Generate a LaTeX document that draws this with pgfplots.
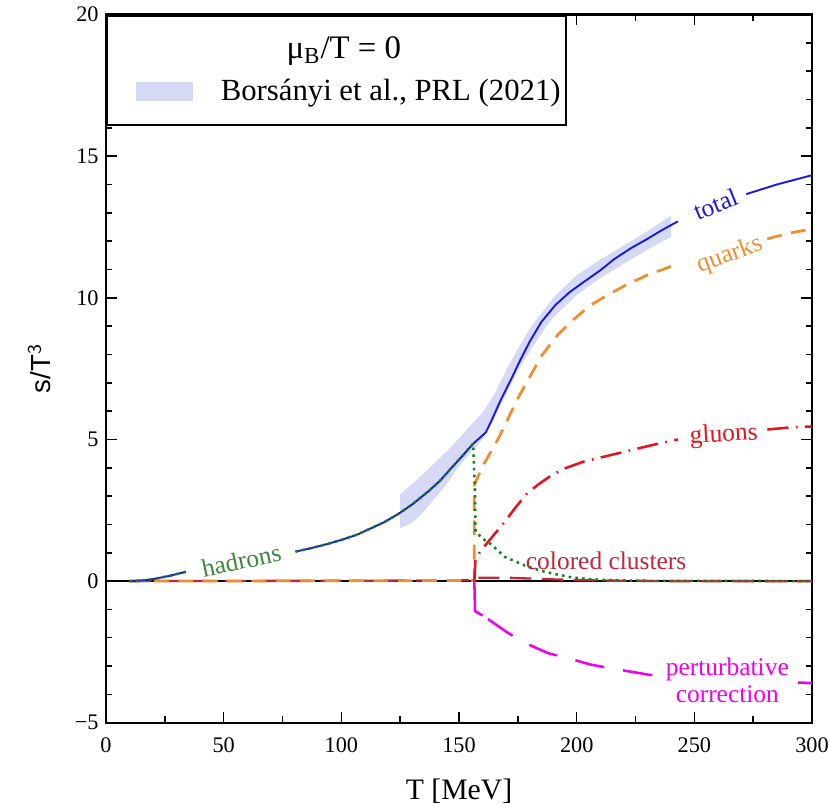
\documentclass[border=0pt]{standalone}
\usepackage{pgfplots}
\pgfplotsset{compat=1.18}
\usepackage{fontspec}
\setmainfont{Liberation Serif}
\newfontfamily\lsans{Liberation Sans}
\definecolor{bandcol}{RGB}{214,217,245}
\definecolor{cblue}{RGB}{25,25,225}
\definecolor{corange}{RGB}{238,142,50}
\definecolor{cred}{RGB}{228,20,30}
\definecolor{cgreen}{RGB}{20,130,20}
\definecolor{ctext}{RGB}{60,135,60}
\definecolor{ccrim}{RGB}{190,40,60}
\definecolor{cmag}{RGB}{240,0,240}
\begin{document}
\begin{tikzpicture}
\begin{axis}[
  width=333pt, height=334pt, scale only axis,
  xmin=0, xmax=300, ymin=-5, ymax=20,
  xtick={0,50,...,300}, xticklabels={0,50,100,150,200,250,300},
  ytick={-5,0,...,20}, yticklabels={−5,0,5,10,15,20},
  minor x tick num=1, minor y tick num=4,
  tick pos=both, tick align=inside,
  major tick length=5pt, minor tick length=3pt,
  axis line style={line width=1.1pt},
  tick style={black, line width=0.7pt},
  ticklabel style={font=\fontsize{10.5}{12}\selectfont},
  xticklabel style={inner xsep=0pt, yshift=-3.5pt},
  xlabel={T [MeV]}, xlabel style={font=\fontsize{14}{16}\selectfont, yshift=-5.5pt},
  ylabel={\lsans s/T$^{\mathsf{3}}$}, ylabel style={font=\fontsize{13}{15}\selectfont, yshift=4.7pt},
  legend style={at={(0,1)}, anchor=north west, draw=black, line width=1.1pt,
    font=\fontsize{14.5}{16}\selectfont, inner xsep=0.5pt, inner ysep=8pt, row sep=4pt,
    legend cell align=left},
]
% legend entries
\addlegendimage{empty legend}
\addlegendentry{\hspace{42pt}\fontsize{15.5}{17}\selectfont μ\textsubscript{B}/T = 0}
\addlegendimage{legend image code/.code={\path (0pt,0pt); \fill[bandcol] (13pt,-4pt) rectangle (39pt,4pt);}}
\addlegendentry{\hspace{11pt}Borsányi et al., PRL (2021)}

% band
\addplot[forget plot, fill=bandcol, draw=none] coordinates {
(125,1.87)(130,2.05)(135,2.45)(140,2.95)(145,3.45)(150,4.05)(155,4.55)(160,5.0)(165,5.75)(170,6.6)(175,7.45)(180,8.1)(185,8.75)(190,9.3)(200,10.1)(210,10.7)(220,11.2)(230,11.7)(240,12.15)
(240,12.9)(230,12.35)(220,11.85)(210,11.35)(200,10.8)(190,10.0)(185,9.45)(180,8.9)(175,8.2)(170,7.45)(165,6.6)(160,5.95)(155,5.5)(150,5.04)(145,4.6)(140,4.2)(135,3.8)(130,3.42)(125,3.06)
} -- cycle;

% zero line
\addplot[forget plot, black, line width=0.7pt] coordinates {(0,0)(300,0)};

% colored clusters
\addplot[forget plot, ccrim, line width=1.1pt, dash pattern=on 10pt off 5pt] coordinates {
(10,0)(100,0.01)(156,0.03)(157,0.12)(170,0.12)(180,0.09)(190,0.06)(210,0.02)(240,0.0)(300,0)};

% quarks
\addplot[forget plot, corange, line width=1.3pt, dash pattern=on 7pt off 4.5pt] coordinates {
(10,0)(156.5,0.02)(156.5,3.4)(160,4.05)(166.5,5.0)(175,6.45)(185,7.95)(192,8.7)(199,9.26)(206,9.75)(214,10.14)(222,10.5)(230,10.8)(243,11.2)};
\addplot[forget plot, corange, line width=1.3pt, dash pattern=on 7pt off 4.5pt] coordinates {
(281,12.08)(290,12.28)(300,12.43)};

% gluons
\addplot[forget plot, cred, line width=1.2pt, dash pattern=on 10pt off 3.5pt on 0.8pt off 3.5pt] coordinates {
(156.5,0)(157,0.8)(160,1.15)(164.5,1.6)(169.5,2.1)(174,2.6)(179,3.1)(183.5,3.4)(189,3.72)(195,3.98)(203,4.22)(212,4.4)(222,4.6)(233,4.82)(243,5.0)};
\addplot[forget plot, cred, line width=1.2pt, dash pattern=on 10pt off 3.5pt on 0.8pt off 3.5pt] coordinates {
(281,5.35)(290,5.42)(300,5.46)};

% perturbative correction
\addplot[forget plot, cmag, line width=1.2pt] coordinates {(156.5,0)(156.8,-1.06)(160,-1.22)};
\addplot[forget plot, cmag, line width=1.2pt, dash pattern=on 14pt off 9pt] coordinates {
(162.3,-1.34)(170.8,-1.83)(179,-2.22)(187.7,-2.54)(197.5,-2.75)(206,-2.95)(216,-3.1)(226,-3.24)(234,-3.35)};
\addplot[forget plot, cmag, line width=1.2pt] coordinates {(294,-3.58)(300,-3.6)};

% total
\addplot[forget plot, cblue, line width=0.9pt] coordinates {
(10,0)(15,0.02)(20,0.07)(26.7,0.18)(34,0.33)};
\addplot[forget plot, cblue, line width=0.9pt] coordinates {
(80.5,1.04)(87,1.16)(94.5,1.32)(101,1.48)(107,1.65)(111.4,1.82)(118,2.07)(124,2.36)(130,2.7)(137,3.17)(142,3.55)(146.6,3.98)(151,4.38)(156,4.85)(161.4,5.25)(164,5.7)(167.4,6.34)(172,7.1)(176,7.8)(180,8.45)(185,9.15)(191,9.75)(197,10.2)(203,10.56)(210,10.97)(216,11.37)(223,11.75)(230,12.08)(236,12.38)(243,12.7)};
\addplot[forget plot, cblue, line width=0.9pt] coordinates {
(272,13.66)(285,14.0)(300,14.33)};

% hadrons
\addplot[forget plot, cgreen, line width=1.2pt, dotted] coordinates {
(10,0)(15,0.02)(20,0.07)(26.7,0.18)(34,0.33)};
\addplot[forget plot, cgreen, line width=1.2pt, dotted] coordinates {
(80.5,1.04)(87,1.16)(94.5,1.32)(101,1.48)(107,1.65)(111.4,1.82)(118,2.07)(124,2.36)(130,2.7)(137,3.17)(142,3.55)(146.6,3.98)(151,4.38)(156,4.85)(156.8,3.0)(157,1.75)(160,1.5)(163.6,1.3)(169.5,0.85)(178,0.55)(185,0.36)(190.7,0.25)(198,0.13)(205,0.07)(215,0.03)(230,0.01)(300,0)};

% labels
\node[cblue, rotate=22, font=\fontsize{12}{14}\selectfont] at (axis cs:259,13.3) {total};
\node[corange, rotate=20, font=\fontsize{12}{14}\selectfont] at (axis cs:265,11.5) {quarks};
\node[cred, rotate=3, font=\fontsize{12}{14}\selectfont] at (axis cs:262.5,5.15) {gluons};
\node[ccrim, font=\fontsize{12}{14}\selectfont] at (axis cs:212.5,0.72) {colored clusters};
\node[ctext, rotate=12, font=\fontsize{12}{14}\selectfont] at (axis cs:57.5,0.72) {hadrons};
\node[cmag, align=center, font=\fontsize{12}{13}\selectfont] at (axis cs:264,-3.5) {perturbative\\correction};
\end{axis}
\path (current axis.south west) ++(-50pt,-42pt) coordinate (bbA);
\path (current axis.north east) ++(8pt,6pt) coordinate (bbB);
\path (bbA) rectangle (bbB);
\end{tikzpicture}
\end{document}
